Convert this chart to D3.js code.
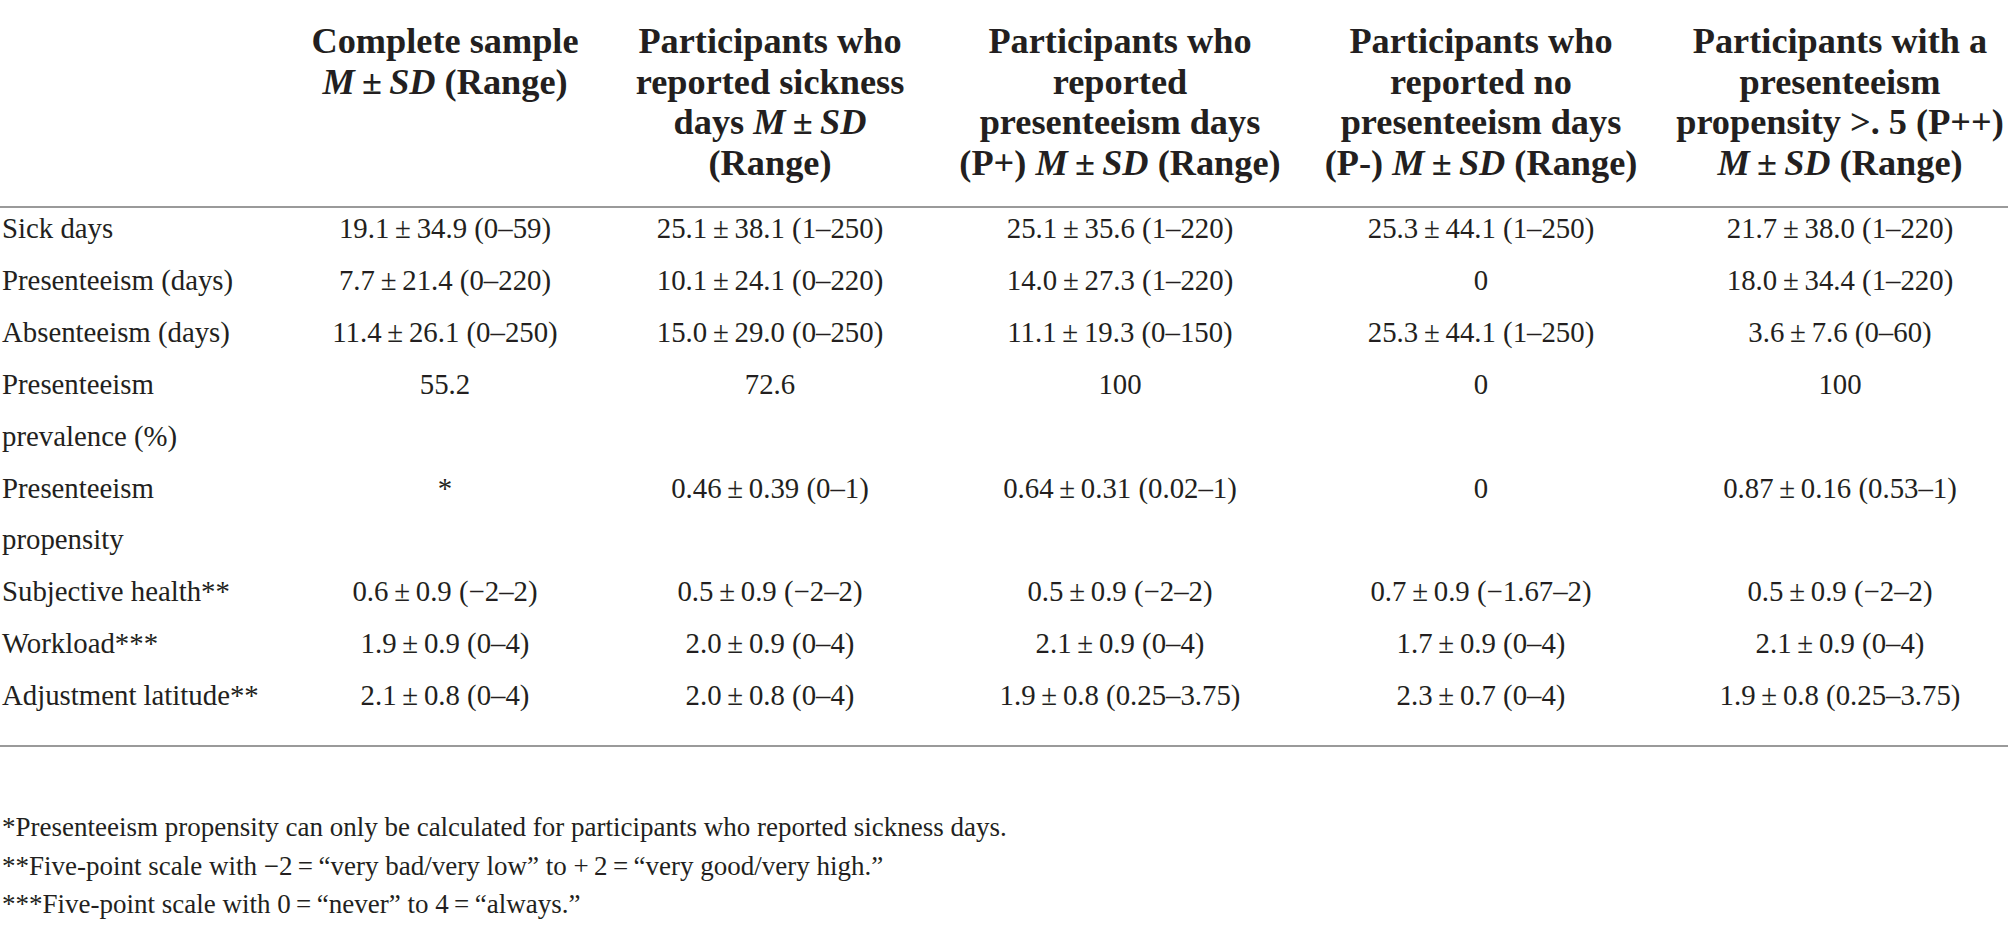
<!DOCTYPE html>
<html>
<head>
<meta charset="utf-8">
<script src="https://cdn.jsdelivr.net/npm/d3@7"></script>
<style>
  html, body { margin: 0; padding: 0; background: #ffffff; }
  svg { display: block; }
  text { font-family: "Liberation Serif", "DejaVu Serif", serif; fill: #231f20; }
</style>
</head>
<body>
<svg id="chart" width="2008" height="926"></svg>
<script>
// ---- data ----
const columnKeys = ["complete", "sickness", "pplus", "pminus", "ppp"];
// header lines; segments wrapped in _ _ are italic
const columnHeaders = [
  ["Complete sample", "_M_\u2009±\u2009_SD_ (Range)"],
  ["Participants who", "reported sickness", "days _M_\u2009±\u2009_SD_", "(Range)"],
  ["Participants who", "reported", "presenteeism days", "(P+) _M_\u2009±\u2009_SD_ (Range)"],
  ["Participants who", "reported no", "presenteeism days", "(P-) _M_\u2009±\u2009_SD_ (Range)"],
  ["Participants with a", "presenteeism", "propensity >. 5 (P++)", "_M_\u2009±\u2009_SD_ (Range)"]
];
const rowLabels = [
  ["Sick days"],
  ["Presenteeism (days)"],
  ["Absenteeism (days)"],
  ["Presenteeism", "prevalence (%)"],
  ["Presenteeism", "propensity"],
  ["Subjective health**"],
  ["Workload***"],
  ["Adjustment latitude**"]
];
const pm = "\u2009±\u2009";
const completeSample = [
  "19.1" + pm + "34.9 (0–59)", "7.7" + pm + "21.4 (0–220)", "11.4" + pm + "26.1 (0–250)",
  "55.2", "*", "0.6" + pm + "0.9 (−2–2)", "1.9" + pm + "0.9 (0–4)", "2.1" + pm + "0.8 (0–4)"
];
const sicknessDays = [
  "25.1" + pm + "38.1 (1–250)", "10.1" + pm + "24.1 (0–220)", "15.0" + pm + "29.0 (0–250)",
  "72.6", "0.46" + pm + "0.39 (0–1)", "0.5" + pm + "0.9 (−2–2)", "2.0" + pm + "0.9 (0–4)", "2.0" + pm + "0.8 (0–4)"
];
const presenteeismPlus = [
  "25.1" + pm + "35.6 (1–220)", "14.0" + pm + "27.3 (1–220)", "11.1" + pm + "19.3 (0–150)",
  "100", "0.64" + pm + "0.31 (0.02–1)", "0.5" + pm + "0.9 (−2–2)", "2.1" + pm + "0.9 (0–4)", "1.9" + pm + "0.8 (0.25–3.75)"
];
const presenteeismMinus = [
  "25.3" + pm + "44.1 (1–250)", "0", "25.3" + pm + "44.1 (1–250)",
  "0", "0", "0.7" + pm + "0.9 (−1.67–2)", "1.7" + pm + "0.9 (0–4)", "2.3" + pm + "0.7 (0–4)"
];
const propensityHigh = [
  "21.7" + pm + "38.0 (1–220)", "18.0" + pm + "34.4 (1–220)", "3.6" + pm + "7.6 (0–60)",
  "100", "0.87" + pm + "0.16 (0.53–1)", "0.5" + pm + "0.9 (−2–2)", "2.1" + pm + "0.9 (0–4)", "1.9" + pm + "0.8 (0.25–3.75)"
];
const footnotes = [
  "*Presenteeism propensity can only be calculated for participants who reported sickness days.",
  "**Five-point scale with −2\u2009=\u2009“very bad/very low” to +\u20092\u2009=\u2009“very good/very high.”",
  "***Five-point scale with 0\u2009=\u2009“never” to 4\u2009=\u2009“always.”"
];

const series = [completeSample, sicknessDays, presenteeismPlus, presenteeismMinus, propensityHigh];

// ---- layout ----
const W = 2008, H = 926;
const svg = d3.select("#chart");

const x = d3.scaleOrdinal().domain(columnKeys).range([445, 770, 1120, 1481, 1840]);
const headerY = d3.scaleLinear().domain([0, 3]).range([53, 174.5]);
const lineY = d3.scaleLinear().domain([0, 9]).range([238, 238 + 9 * 51.9]);
const footY = d3.scaleLinear().domain([0, 2]).range([836, 913]);

// header
columnHeaders.forEach((lines, ci) => {
  lines.forEach((ln, li) => {
    const t = svg.append("text")
      .attr("x", x(columnKeys[ci]))
      .attr("y", headerY(li))
      .attr("text-anchor", "middle")
      .attr("font-weight", "bold")
      .attr("font-size", 36.3);
    ln.split("_").forEach((seg, si) => {
      if (!seg) return;
      t.append("tspan").attr("font-style", si % 2 === 1 ? "italic" : "normal").text(seg);
    });
  });
});

// rules
svg.append("line").attr("x1", 0).attr("x2", W).attr("y1", 207).attr("y2", 207)
  .attr("stroke", "#9a9a9a").attr("stroke-width", 2);
svg.append("line").attr("x1", 0).attr("x2", W).attr("y1", 746).attr("y2", 746)
  .attr("stroke", "#9a9a9a").attr("stroke-width", 2);

// body
let lineIdx = 0;
rowLabels.forEach((labelLines, ri) => {
  labelLines.forEach((lab, k) => {
    svg.append("text")
      .attr("x", 2)
      .attr("y", lineY(lineIdx + k))
      .attr("font-size", 28.8)
      .text(lab);
  });
  series.forEach((col, ci) => {
    svg.append("text")
      .attr("x", x(columnKeys[ci]))
      .attr("y", lineY(lineIdx))
      .attr("text-anchor", "middle")
      .attr("font-size", 28.8)
      .text(col[ri]);
  });
  lineIdx += labelLines.length;
});

// footnotes
footnotes.forEach((f, i) => {
  svg.append("text")
    .attr("x", 2)
    .attr("y", footY(i))
    .attr("font-size", 27)
    .text(f);
});
</script>
</body>
</html>
